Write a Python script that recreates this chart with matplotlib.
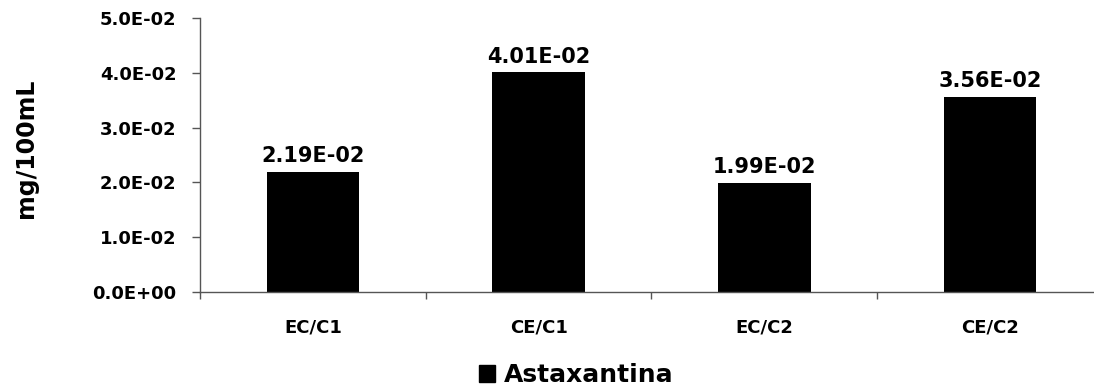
import matplotlib.pyplot as plt
from matplotlib.patches import Patch

amostras = ["EC/C1", "CE/C1", "EC/C2", "CE/C2"]
astaxantina = [0.0219, 0.0401, 0.0199, 0.0356]
rotulos = ["2.19E-02", "4.01E-02", "1.99E-02", "3.56E-02"]
yticks = [0.0, 0.01, 0.02, 0.03, 0.04, 0.05]
ytick_labels = ["0.0E+00", "1.0E-02", "2.0E-02", "3.0E-02", "4.0E-02", "5.0E-02"]

plt.rcParams["font.family"] = "DejaVu Sans"
plt.rcParams["font.weight"] = "bold"

fig = plt.figure(figsize=(10.94, 3.89), dpi=100)
ax = fig.add_axes([0.1828, 0.2494, 0.8254, 0.7044])

x = range(len(amostras))
ax.bar(x, astaxantina, width=0.41, color="black")
for xi, v, r in zip(x, astaxantina, rotulos):
    ax.annotate(r, (xi, v), xytext=(0, 4), textcoords="offset points",
                ha="center", va="bottom", fontsize=15, fontweight="bold")

ax.set_xlim(-0.5, 3.5)
ax.set_ylim(0, 0.05)
ax.set_yticks(yticks)
ax.set_yticklabels(ytick_labels, fontsize=13, fontweight="bold")
ax.set_xticks(list(x))
ax.set_xticklabels(amostras, fontsize=13, fontweight="bold")
ax.set_xticks([-0.5, 0.5, 1.5, 2.5], minor=True)
ax.tick_params(axis="x", which="major", length=0, pad=19)
ax.tick_params(axis="x", which="minor", length=5, width=1, color="#555555")
ax.tick_params(axis="y", length=6, width=1, color="#555555", pad=11)

for s in ["top", "right"]:
    ax.spines[s].set_visible(False)
for s in ["left", "bottom"]:
    ax.spines[s].set_color("#555555")
    ax.spines[s].set_linewidth(1)

fig.text(0.024, 0.62, "mg/100mL", rotation=90, ha="center", va="center",
         fontsize=17, fontweight="bold")

fig.legend(handles=[Patch(color="black", label="Astaxantina")], loc="center",
           bbox_to_anchor=(0.527, 0.035), frameon=False,
           handlelength=0.65, handleheight=0.65, handletextpad=0.35,
           prop={"weight": "bold", "size": 18})

fig.savefig("out.png", dpi=100)
